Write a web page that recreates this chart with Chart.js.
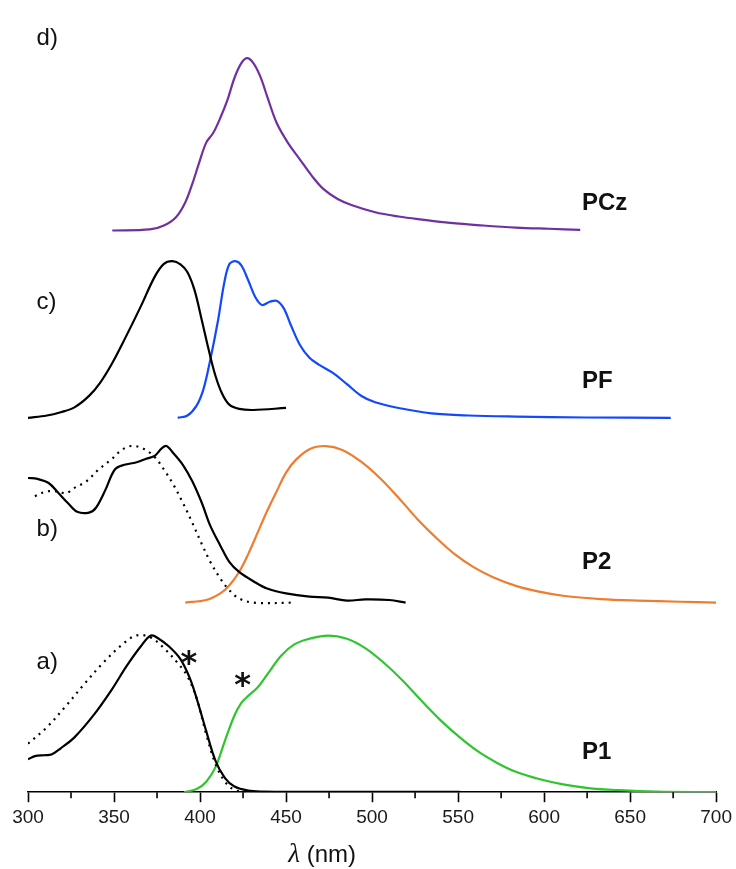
<!DOCTYPE html>
<html>
<head>
<meta charset="utf-8">
<script src="https://cdn.jsdelivr.net/npm/chart.js@4.4.1/dist/chart.umd.min.js"></script>
<style>
  html, body { margin: 0; padding: 0; background: #fff; }
  #wrap { width: 736px; height: 869px; }
</style>
</head>
<body>
<div id="wrap"><canvas id="chart"></canvas></div>
<script>
// Wavelength axis ticks
const xTicks = [300, 350, 400, 450, 500, 550, 600, 650, 700];
const xMinorTicks = [325, 375, 425, 475, 525, 575, 625, 675];

// Vertical offset of each stacked panel (a, b, c, d), in normalized intensity units
const panelOffsets = [0, 1.21, 2.39, 3.586];

// a) P1
const p1AbsNm = [300, 304, 309.5, 313.6, 319, 327, 338, 349, 357, 365.5, 371.5, 376, 382, 388.6, 394, 398, 403.6, 409, 414.5, 420, 428, 436, 460, 500, 551];
const p1AbsVal = [0.21, 0.23, 0.236, 0.24, 0.28, 0.35, 0.49, 0.66, 0.80, 0.93, 1.0, 0.98, 0.93, 0.85, 0.73, 0.60, 0.39, 0.20, 0.09, 0.036, 0.01, 0.004, 0.002, 0.002, 0.002];
const p1FilmNm = [300, 311, 322, 332.7, 343.6, 354.5, 362.7, 371, 379, 387, 392.7, 398, 403.6, 409, 414.5, 420, 428, 430];
const p1FilmVal = [0.31, 0.415, 0.55, 0.69, 0.825, 0.94, 1.0, 0.99, 0.92, 0.825, 0.74, 0.60, 0.37, 0.18, 0.067, 0.015, 0.0, 0.0];
const p1EmNm = [390.8, 398, 403.6, 409, 414.5, 420, 424, 428, 433.6, 439, 447, 455, 463.6, 474.5, 485.4, 496, 507, 518, 529, 540, 551, 562, 572.7, 583.6, 597, 611, 627, 643.6, 665, 700];
const p1EmVal = [0, 0.02, 0.067, 0.16, 0.33, 0.49, 0.57, 0.615, 0.67, 0.75, 0.87, 0.945, 0.98, 1.0, 0.98, 0.92, 0.825, 0.71, 0.58, 0.457, 0.35, 0.257, 0.187, 0.13, 0.084, 0.05, 0.025, 0.013, 0.004, 0];

// b) P2
const p2AbsNm = [300, 305.5, 312, 317.7, 323, 328.6, 335.5, 339.5, 345, 350.5, 356, 362.7, 368, 373.6, 377.7, 380.5, 384.5, 390, 395.5, 401, 406, 411.8, 417, 422.7, 431, 439, 450, 463.6, 474.5, 485.5, 496, 510, 519.5];
const p2AbsVal = [0.796, 0.79, 0.764, 0.70, 0.638, 0.58, 0.575, 0.606, 0.72, 0.85, 0.88, 0.895, 0.916, 0.937, 0.985, 1.0, 0.954, 0.88, 0.775, 0.638, 0.49, 0.364, 0.26, 0.196, 0.137, 0.09, 0.059, 0.038, 0.032, 0.013, 0.021, 0.017, 0.0];
const p2FilmNm = [304, 311, 317.7, 322, 327, 334, 341, 348, 354.5, 360, 366.8, 373.6, 379, 384.5, 390, 395.5, 401, 406, 411.8, 417, 422.7, 431, 455.5];
const p2FilmVal = [0.68, 0.71, 0.71, 0.697, 0.733, 0.775, 0.85, 0.91, 0.975, 1.0, 0.985, 0.93, 0.85, 0.754, 0.638, 0.51, 0.375, 0.26, 0.154, 0.08, 0.027, 0, 0];
const p2EmNm = [391.4, 403.6, 411.8, 417, 422.7, 428, 433.6, 439, 444.5, 450, 455.5, 463.6, 473, 482.7, 493.6, 504.5, 515.4, 526.4, 537, 548, 559, 570, 583.6, 597, 611, 632.7, 654.5, 679, 700];
const p2EmVal = [0, 0.017, 0.059, 0.11, 0.196, 0.31, 0.45, 0.585, 0.71, 0.83, 0.91, 0.98, 1.0, 0.975, 0.90, 0.796, 0.67, 0.533, 0.417, 0.31, 0.227, 0.164, 0.107, 0.07, 0.044, 0.023, 0.013, 0.006, 0];

// c) PF
const pfAbsNm = [300, 311, 319, 327, 335.5, 342, 349, 357, 365.5, 373.6, 379, 384, 388.6, 392.7, 396.8, 401, 405, 409, 413, 417, 422.7, 431, 450];
const pfAbsVal = [0, 0.015, 0.036, 0.067, 0.14, 0.225, 0.35, 0.52, 0.71, 0.90, 0.983, 1.0, 0.98, 0.93, 0.815, 0.625, 0.436, 0.267, 0.15, 0.084, 0.057, 0.05, 0.063];
const pfEmNm = [387, 392.7, 398, 402, 406, 410.5, 414, 417, 420.5, 424, 428, 432, 436, 440.5, 444.5, 448.6, 452.7, 458, 463.6, 469, 477, 485.4, 493.6, 501.8, 515.4, 534.5, 556, 583.6, 624.5, 673.6];
const pfEmVal = [0, 0.015, 0.078, 0.183, 0.373, 0.625, 0.857, 0.98, 1.0, 0.973, 0.878, 0.773, 0.72, 0.741, 0.747, 0.70, 0.594, 0.467, 0.383, 0.34, 0.288, 0.215, 0.141, 0.099, 0.063, 0.029, 0.015, 0.008, 0.002, 0];

// d) PCz
const pczEmNm = [349, 370.8, 379, 386, 391.4, 395.5, 399.5, 403.6, 407.7, 411.8, 416, 420, 424, 427.4, 431, 435, 439, 444.5, 451, 458, 465, 471.8, 480, 488, 501.8, 515.4, 529, 545.4, 564.5, 583.6, 602.7, 621];
const pczEmVal = [0, 0.006, 0.029, 0.077, 0.163, 0.27, 0.394, 0.51, 0.567, 0.654, 0.76, 0.885, 0.971, 1.0, 0.971, 0.894, 0.779, 0.625, 0.51, 0.413, 0.317, 0.24, 0.183, 0.148, 0.106, 0.081, 0.063, 0.044, 0.029, 0.017, 0.01, 0.004];
const pczScale = 1.10;

// Panel labels and asterisks: [text, wavelength, level]
const panelLabels = [['a)', 305, 0.83], ['b)', 305, 1.68], ['c)', 305, 3.13], ['d)', 305, 4.81]];
const polymerLabels = [['P1', 622, 0.255], ['P2', 622, 1.465], ['PF', 622, 2.62], ['PCz', 622, 3.76]];
const starLabels = [['*', 393.5, 0.85], ['*', 424.8, 0.71]];
const axisTitleAt = 471; // wavelength under which the axis title is centred

function toPoints(nm, val, offset, scale = 1) {
  return nm.map((x, i) => ({ x: x, y: offset + val[i] * scale }));
}

function series(nm, val, offset, color, opts = {}) {
  return {
    data: toPoints(nm, val, offset, opts.scale || 1),
    borderColor: color,
    borderWidth: opts.width || 2.2,
    borderDash: opts.dash || [],
    pointRadius: 0,
    tension: 0.35,
    fill: false
  };
}

// Minor ticks and text annotations
const annotate = {
  id: 'annotate',
  afterDraw(chart) {
    const { ctx, scales: { x, y } } = chart;
    ctx.save();

    // minor ticks below the axis
    ctx.strokeStyle = '#000';
    ctx.lineWidth = 1.6;
    xMinorTicks.forEach(v => {
      const px = x.getPixelForValue(v);
      ctx.beginPath();
      ctx.moveTo(px, y.bottom);
      ctx.lineTo(px, y.bottom + 6);
      ctx.stroke();
    });

    ctx.fillStyle = '#111';
    ctx.textBaseline = 'middle';
    ctx.textAlign = 'left';
    ctx.font = '24px "Liberation Sans Narrow", "Liberation Sans", sans-serif';
    panelLabels.forEach(([t, nm, lv]) => ctx.fillText(t, x.getPixelForValue(nm), y.getPixelForValue(lv)));

    ctx.font = 'bold 24px "Liberation Sans", Arial, sans-serif';
    polymerLabels.forEach(([t, nm, lv]) => ctx.fillText(t, x.getPixelForValue(nm), y.getPixelForValue(lv)));

    ctx.textAlign = 'center';
    ctx.font = 'bold 32px "DejaVu Sans", sans-serif';
    starLabels.forEach(([t, nm, lv]) => ctx.fillText(t, x.getPixelForValue(nm), y.getPixelForValue(lv) + 6));

    // axis title with italic lambda
    const cx = x.getPixelForValue(axisTitleAt);
    const ty = 855;
    ctx.textAlign = 'left';
    const lamFont = 'italic 27px "Liberation Serif", serif';
    const restFont = '24px "Liberation Sans", sans-serif';
    ctx.font = lamFont;
    const lw = ctx.measureText('λ').width;
    ctx.font = restFont;
    const rest = ' (nm)';
    const rw = ctx.measureText(rest).width;
    const start = cx - (lw + rw) / 2;
    ctx.font = lamFont;
    ctx.fillText('λ', start, ty);
    ctx.font = restFont;
    ctx.fillText(rest, start + lw, ty);

    ctx.restore();
  }
};

new Chart(document.getElementById('chart').getContext('2d'), {
  type: 'line',
  data: {
    datasets: [
      series(p1FilmNm, p1FilmVal, panelOffsets[0], '#000', { dash: [2, 5] }),
      series(p1AbsNm, p1AbsVal, panelOffsets[0], '#000'),
      series(p1EmNm, p1EmVal, panelOffsets[0], '#2ec52e'),
      series(p2FilmNm, p2FilmVal, panelOffsets[1], '#000', { dash: [2, 5] }),
      series(p2AbsNm, p2AbsVal, panelOffsets[1], '#000'),
      series(p2EmNm, p2EmVal, panelOffsets[1], '#ed7d31'),
      series(pfAbsNm, pfAbsVal, panelOffsets[2], '#000'),
      series(pfEmNm, pfEmVal, panelOffsets[2], '#1448ff'),
      series(pczEmNm, pczEmVal, panelOffsets[3], '#7030a0', { scale: pczScale })
    ]
  },
  options: {
    responsive: true,
    maintainAspectRatio: false,
    animation: false,
    layout: { padding: { left: 28, right: 17, top: 9, bottom: 36 } },
    plugins: {
      legend: { display: false },
      tooltip: { enabled: false }
    },
    scales: {
      x: {
        type: 'linear',
        min: 300,
        max: 700,
        afterBuildTicks: (axis) => { axis.ticks = xTicks.map(v => ({ value: v })); },
        grid: {
          display: true,
          drawOnChartArea: false,
          drawTicks: true,
          tickLength: 10,
          tickColor: '#000',
          tickWidth: 1.6
        },
        border: { display: true, color: '#000', width: 1.6 },
        ticks: {
          color: '#1a1a1a',
          padding: 4,
          maxRotation: 0,
          font: { family: '"Liberation Sans", sans-serif', size: 19 }
        }
      },
      y: {
        display: false,
        min: 0,
        max: 5
      }
    }
  },
  plugins: [annotate]
});
</script>
</body>
</html>
